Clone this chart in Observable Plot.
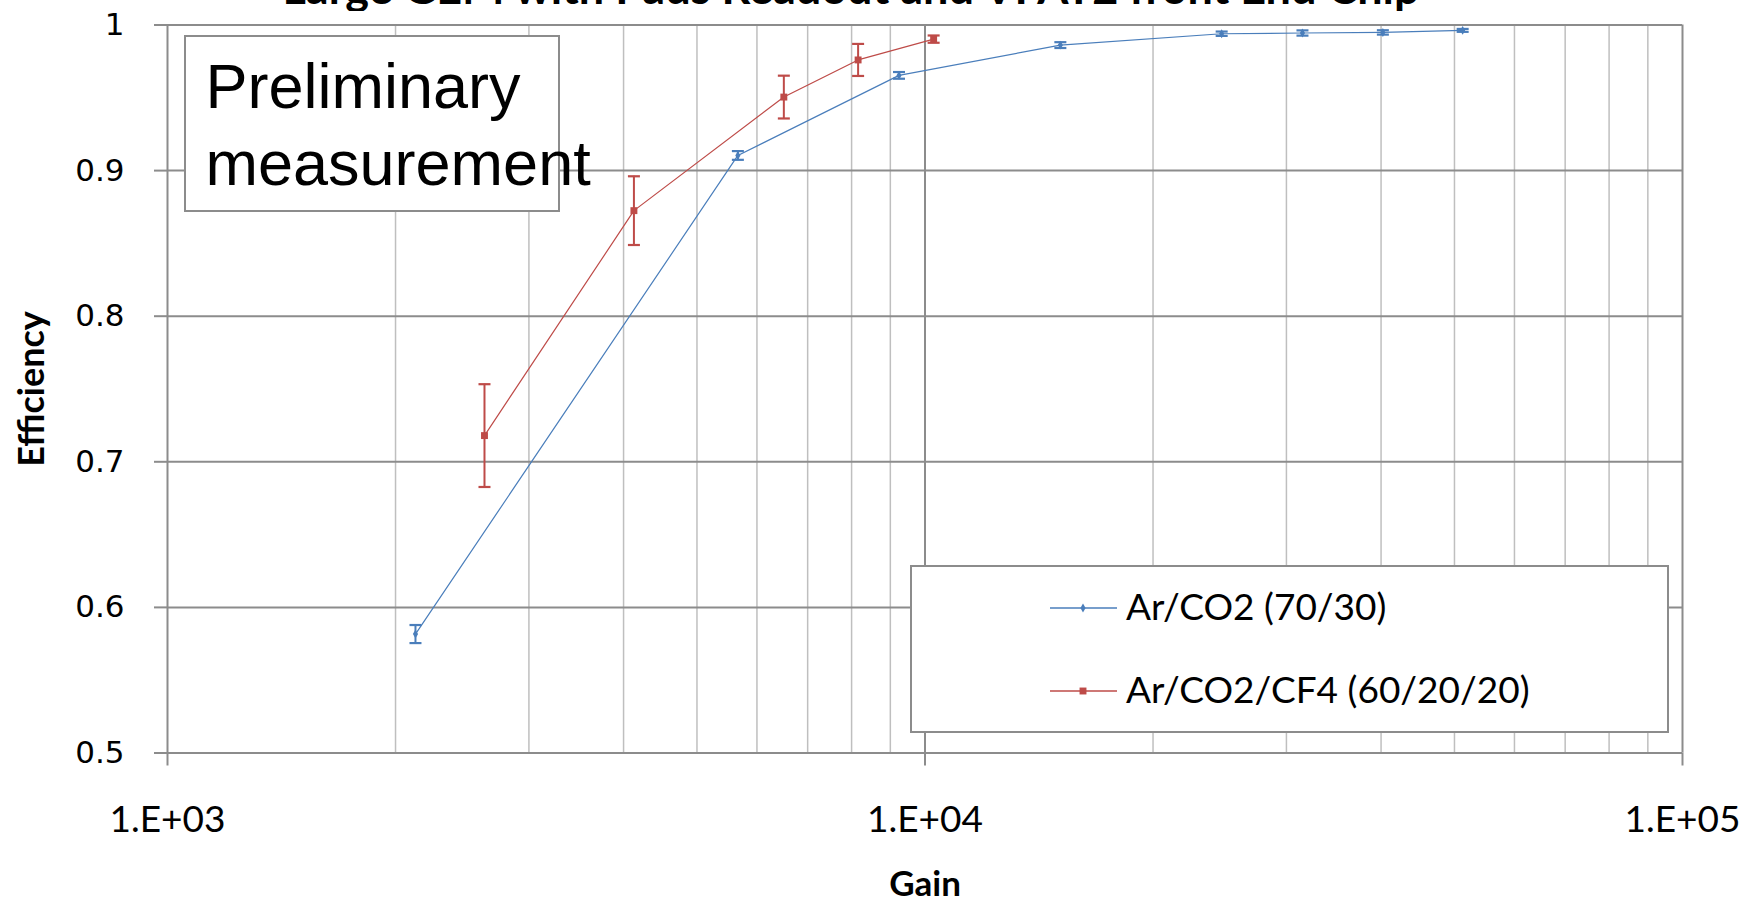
<!DOCTYPE html>
<html><head><meta charset="utf-8">
<script src="https://cdn.jsdelivr.net/npm/d3@7"></script>
<script src="https://cdn.jsdelivr.net/npm/@observablehq/plot@0.6"></script>
<style>
body{margin:0;background:#fff;}
#wrap{position:relative;width:1756px;height:900px;overflow:hidden;background:#fff;}
#wrap svg{display:block;}
</style></head><body><div id="wrap"></div>
<script>
// ---- data ----
const titleText = "Large GEM with Pads Readout and VFAT2 front End Chip";
const xLabel = "Gain";
const yLabel = "Efficiency";
const seriesNames = ["Ar/CO2 (70/30)", "Ar/CO2/CF4 (60/20/20)"];
const seriesColors = ["#4a7ebb", "#be4b48"];
const annotationLines = ["Preliminary", "measurement"];

const blueGain = [2125, 5662, 9240, 15090, 24640, 31500, 40220, 51260];
const blueEff  = [0.5817, 0.9104, 0.9654, 0.9862, 0.9940, 0.9945, 0.9949, 0.9963];
const blueErr  = [0.0062, 0.0030, 0.0023, 0.0020, 0.0015, 0.0018, 0.0015, 0.0010];

const redGain = [2621, 4128, 6511, 8160, 10266];
const redEff  = [0.718, 0.8725, 0.9505, 0.976, 0.9903];
const redErr  = [0.0353, 0.0236, 0.0147, 0.0110, 0.0025];

const yTicks = [0.5, 0.6, 0.7, 0.8, 0.9, 1];
const xMajorTicks = [1000, 10000, 100000];
const xTickLabels = ["1.E+03", "1.E+04", "1.E+05"];
const xMinorTicks = [2000, 3000, 4000, 5000, 6000, 7000, 8000, 9000,
                     20000, 30000, 40000, 50000, 60000, 70000, 80000, 90000];

// ---- tables ----
const blue = blueGain.map((g, i) => ({g, e: blueEff[i], err: blueErr[i]}));
const red = redGain.map((g, i) => ({g, e: redEff[i], err: redErr[i]}));

const capSymbol = {
  draw(ctx, size) {
    const r = Math.sqrt(size / Math.PI);
    ctx.moveTo(-r, 0); ctx.lineTo(r, 0);
  }
};

function seriesMarks(data, color, symbol, r) {
  return [
    Plot.line(data, {x: "g", y: "e", stroke: color, strokeWidth: 1.2}),
    Plot.ruleX(data, {x: "g", y1: d => d.e - d.err, y2: d => d.e + d.err, stroke: color, strokeWidth: 2}),
    Plot.dot(data, {x: "g", y: d => d.e - d.err, symbol: capSymbol, r: 6, stroke: color, fill: "none", strokeWidth: 2.2}),
    Plot.dot(data, {x: "g", y: d => d.e + d.err, symbol: capSymbol, r: 6, stroke: color, fill: "none", strokeWidth: 2.2}),
    Plot.dot(data, {x: "g", y: "e", symbol, r, fill: color, stroke: "none"})
  ];
}

const wrap = d3.select("#wrap");

// ---- title (clipped at the top, as in the reference) ----
const tsvg = wrap.append("svg").attr("width", 1756).attr("height", 11);
tsvg.append("text").attr("x", 851).attr("y", 4).attr("text-anchor", "middle")
  .attr("font-family", "Lato, sans-serif").attr("font-weight", "bold").attr("font-size", 45)
  .attr("fill", "black").text(titleText);

// ---- chart ----
const chart = Plot.plot({
  width: 1756, height: 889,
  marginLeft: 167, marginRight: 74, marginTop: 13.5, marginBottom: 147.5,
  style: {background: "white", fontFamily: "Lato, sans-serif", color: "black", overflow: "visible"},
  x: {type: "log", domain: [1000, 100000]},
  y: {domain: [0.5, 1]},
  marks: [
    Plot.ruleX(xMinorTicks, {stroke: "#bfbfbf", strokeWidth: 1.5}),
    Plot.ruleY(yTicks, {stroke: "#8c8c8c", strokeWidth: 2}),
    Plot.ruleX(xMajorTicks, {stroke: "#8c8c8c", strokeWidth: 2}),
    Plot.axisY({ticks: yTicks, tickSize: 13, tickPadding: 30, tickFormat: d => String(d),
      stroke: "#8c8c8c", strokeWidth: 2, fill: "black", fontSize: 31, fontFamily: "DejaVu Sans", label: null}),
    Plot.axisX({ticks: xMajorTicks, tickSize: 13, tickPadding: 39.5,
      tickFormat: d => xTickLabels[xMajorTicks.indexOf(d)],
      stroke: "#8c8c8c", strokeWidth: 2, fill: "black", fontSize: 37, fontFamily: "Lato", label: null}),
    ...seriesMarks(blue, seriesColors[0], "diamond", 2.7),
    ...seriesMarks(red, seriesColors[1], "square", 3.9),
    Plot.text([yLabel], {text: d => d, frameAnchor: "left", dx: -124, rotate: -90,
      textAnchor: "middle", lineAnchor: "bottom",
      fontSize: 36, fontWeight: "bold", fontFamily: "Lato", fill: "black"}),
    Plot.text([xLabel], {text: d => d, frameAnchor: "bottom", dy: 143, textAnchor: "middle", lineAnchor: "bottom",
      fontSize: 35, fontWeight: "bold", fontFamily: "Lato", fill: "black"})
  ]
});
wrap.node().appendChild(chart);

// ---- overlay: annotation box and legend ----
const ov = wrap.append("svg").attr("width", 1756).attr("height", 900)
  .style("position", "absolute").style("left", "0px").style("top", "0px")
  .style("overflow", "visible").style("pointer-events", "none");

ov.append("rect").attr("x", 185).attr("y", 36).attr("width", 374).attr("height", 175)
  .attr("fill", "white").attr("stroke", "#8c8c8c").attr("stroke-width", 2);
annotationLines.forEach((t, i) => {
  ov.append("text").attr("x", 205.5).attr("y", 108 + 77 * i)
    .attr("font-family", "'Liberation Sans', Arial, sans-serif").attr("font-size", 63)
    .attr("fill", "black").text(t);
});

ov.append("rect").attr("x", 911).attr("y", 566).attr("width", 757).attr("height", 166)
  .attr("fill", "white").attr("stroke", "#8c8c8c").attr("stroke-width", 2);
const legSymbols = [d3.symbol(d3.symbolDiamond, 2.7 * 2.7 * Math.PI), d3.symbol(d3.symbolSquare, 3.9 * 3.9 * Math.PI)];
seriesNames.forEach((name, i) => {
  const cy = 608 + 83 * i;
  ov.append("line").attr("x1", 1050).attr("x2", 1117).attr("y1", cy).attr("y2", cy)
    .attr("stroke", seriesColors[i]).attr("stroke-width", 1.5);
  ov.append("path").attr("d", legSymbols[i]()).attr("transform", `translate(1083,${cy})`)
    .attr("fill", seriesColors[i]);
  ov.append("text").attr("x", 1126).attr("y", 620 + 83 * i)
    .attr("font-family", "Lato, sans-serif").attr("font-size", 37).attr("fill", "black").text(name);
});
</script></body></html>
